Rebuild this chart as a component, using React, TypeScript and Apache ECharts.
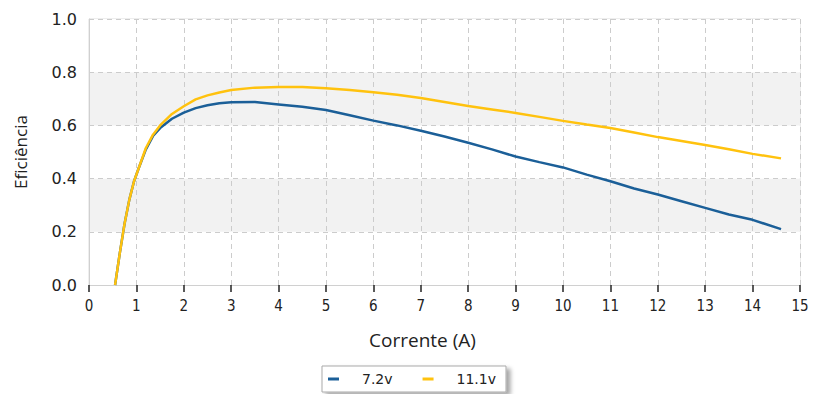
import React, { useEffect, useRef } from "react";
import * as echarts from "echarts";

const currentA: number[] = [0.55, 0.65, 0.75, 0.85, 0.95, 1.05, 1.2, 1.35, 1.5, 1.75, 2.0, 2.25, 2.5, 2.75, 3.0, 3.5, 4.0, 4.5, 5.0, 5.5, 6.0, 6.5, 7.0, 7.5, 8.0, 8.5, 9.0, 9.5, 10.0, 10.5, 11.0, 11.5, 12.0, 12.5, 13.0, 13.5, 14.0, 14.6];
const eff72: number[] = [0.0, 0.12, 0.23, 0.32, 0.39, 0.44, 0.51, 0.56, 0.59, 0.625, 0.648, 0.665, 0.676, 0.683, 0.687, 0.688, 0.679, 0.67, 0.658, 0.638, 0.618, 0.6, 0.58, 0.558, 0.535, 0.51, 0.483, 0.462, 0.442, 0.415, 0.39, 0.363, 0.34, 0.315, 0.29, 0.265, 0.245, 0.21];
const eff111: number[] = [0.0, 0.12, 0.23, 0.32, 0.39, 0.44, 0.515, 0.565, 0.6, 0.643, 0.672, 0.698, 0.713, 0.724, 0.733, 0.742, 0.744, 0.744, 0.74, 0.733, 0.725, 0.715, 0.703, 0.688, 0.673, 0.66, 0.647, 0.632, 0.617, 0.603, 0.59, 0.573, 0.556, 0.541, 0.526, 0.51, 0.493, 0.476];
const seriesNames: string[] = ["7.2v", "11.1v"];
const xTitle = "Corrente (A)";
const yTitle = "Eficiência";

export default function App() {
  const ref = useRef<HTMLDivElement>(null);
  useEffect(() => {
    if (!ref.current) return;
    const chart = echarts.init(ref.current, null, { renderer: "svg" });
    const toPairs = (ys: number[]) => currentA.map((x, i) => [x, ys[i]]);
    chart.setOption({
      animation: false,
      backgroundColor: "#ffffff",
      grid: {
        left: 89,
        right: 14,
        top: 19,
        bottom: 109,
        show: true,
        borderColor: "#dcdcdc",
        borderWidth: 1,
        backgroundColor: "transparent",
      },
      legend: {
        left: 322,
        top: 366,
        padding: [6, 10, 6, 6],
        itemGap: 30,
        itemWidth: 11,
        itemHeight: 3,
        icon: "rect",
        borderColor: "#a9a9a9",
        borderWidth: 1,
        backgroundColor: "#ffffff",
        shadowColor: "rgba(0,0,0,0.35)",
        shadowBlur: 4,
        shadowOffsetX: 4,
        shadowOffsetY: 3,
        textStyle: {
          fontFamily: "DejaVu Sans",
          fontSize: 14,
          color: "#222",
          padding: [0, 0, 0, 18],
        },
        data: seriesNames,
      },
      xAxis: {
        type: "value",
        min: 0,
        max: 15,
        interval: 1,
        name: xTitle,
        nameLocation: "middle",
        nameGap: 45,
        nameTextStyle: { fontFamily: "Open Sans", fontSize: 19, color: "#222", padding: [0, 44, 0, 0] },
        axisLine: { show: true, lineStyle: { color: "#d0d0d0", width: 1 } },
        axisTick: { show: true, length: 7, lineStyle: { color: "#222", width: 1.5 } },
        axisLabel: {
          margin: 13,
          fontFamily: "DejaVu Sans Condensed, DejaVu Sans",
          fontSize: 15,
          color: "#222",
        },
        splitLine: { show: true, lineStyle: { color: "#cccccc", type: [5, 4], width: 1 } },
      },
      yAxis: {
        type: "value",
        min: 0,
        max: 1,
        interval: 0.2,
        name: yTitle,
        nameLocation: "middle",
        nameGap: 60,
        nameTextStyle: { fontFamily: "Open Sans", fontSize: 17, color: "#222" },
        axisLine: { show: true, lineStyle: { color: "#d0d0d0", width: 1 } },
        axisTick: { show: false },
        axisLabel: {
          margin: 12,
          fontFamily: "DejaVu Sans",
          fontSize: 16,
          color: "#222",
          formatter: (v: number) => v.toFixed(1),
        },
        splitLine: { show: true, lineStyle: { color: "#cccccc", type: [5, 4], width: 1 } },
        splitArea: { show: true, areaStyle: { color: ["#ffffff", "#f2f2f2"] } },
      },
      series: [
        {
          name: seriesNames[0],
          type: "line",
          data: toPairs(eff72),
          showSymbol: false,
          smooth: false,
          color: "#1b5f98",
          lineStyle: { width: 2.5, color: "#1b5f98" },
        },
        {
          name: seriesNames[1],
          type: "line",
          data: toPairs(eff111),
          showSymbol: false,
          smooth: false,
          color: "#ffc20e",
          lineStyle: { width: 2.5, color: "#ffc20e" },
        },
      ],
    });
    return () => chart.dispose();
  }, []);
  return <div ref={ref} style={{ width: 814, height: 394, position: "absolute", left: 0, top: 0 }} />;
}
